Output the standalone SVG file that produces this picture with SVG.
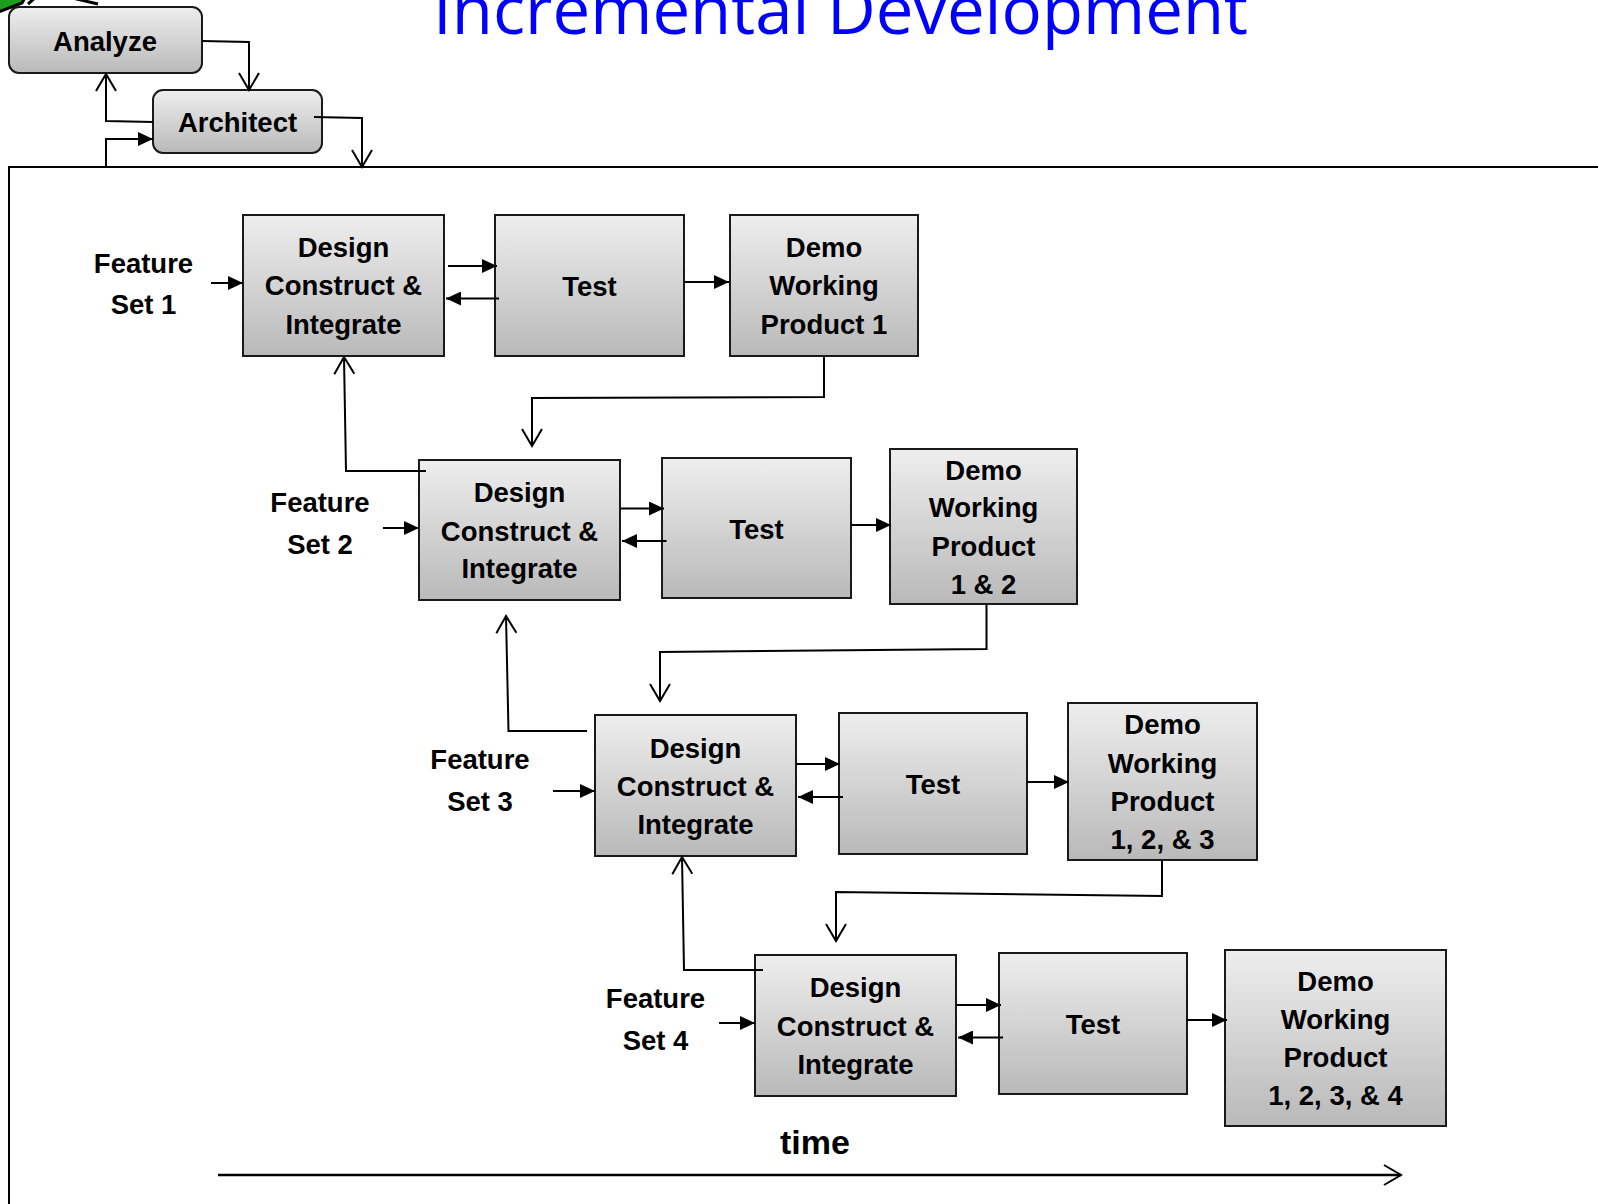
<svg xmlns="http://www.w3.org/2000/svg" width="1598" height="1204" viewBox="0 0 1598 1204">
  <defs>
    <linearGradient id="boxFill" x1="0" y1="0" x2="0" y2="1">
      <stop offset="0" stop-color="#eeeeee"/>
      <stop offset="1" stop-color="#b9b9b9"/>
    </linearGradient>
    <marker id="solid" viewBox="0 0 15 14" refX="15" refY="7" markerWidth="15" markerHeight="14" markerUnits="userSpaceOnUse" orient="auto">
      <path d="M0,0 L15,7 L0,14 z" fill="#000"/>
    </marker>
    <marker id="open" viewBox="-2 -2 21 24" refX="17" refY="10" markerWidth="21" markerHeight="24" markerUnits="userSpaceOnUse" orient="auto" overflow="visible">
      <path d="M0,0 L17,10 L0,20" fill="none" stroke="#000" stroke-width="2"/>
    </marker>
  </defs>
  <style>
    .box { fill: url(#boxFill); stroke: #1a1a1a; stroke-width: 2; }
    .lbl { font-family: "Liberation Sans", Arial, sans-serif; font-weight: bold; font-size: 27.5px; fill: #000; text-anchor: middle; }
    .conn { fill: none; stroke: #000; stroke-width: 2; }
    .s { marker-end: url(#solid); }
    .o { marker-end: url(#open); }
  </style>

  <rect width="1598" height="1204" fill="#ffffff"/>

  <!-- partial shape above the Analyze step -->
  <path d="M-4,-4 L26,-4 L22,3 L-4,13 z" fill="#1aa01a" stroke="#000" stroke-width="3"/>
  <path d="M28,4 L36,-3 M68,-3 L98,4" fill="none" stroke="#000" stroke-width="3"/>

  <!-- title -->
  <text x="433" y="34" font-family="'Open Sans', 'Liberation Sans', sans-serif" font-size="67" fill="#0000ff" textLength="815" lengthAdjust="spacingAndGlyphs">Incremental Development</text>

  <!-- frame around the increments -->
  <path d="M1598,167 H9 V1204" fill="none" stroke="#000" stroke-width="2"/>

  <!-- phase steps -->
  <g id="analyze">
    <rect class="box" x="9" y="7" width="193" height="66" rx="10"/>
    <text class="lbl" x="105" y="51">Analyze</text>
  </g>
  <g id="architect">
    <rect class="box" x="153" y="90" width="169" height="63" rx="10"/>
    <text class="lbl" x="237.5" y="131.5">Architect</text>
  </g>

  <!-- feature set labels -->
  <g id="feature-set-1">
    <text class="lbl" x="143.5" y="272.5">Feature</text>
    <text class="lbl" x="143.5" y="314">Set 1</text>
  </g>
  <g id="feature-set-2">
    <text class="lbl" x="320" y="512">Feature</text>
    <text class="lbl" x="320" y="553.5">Set 2</text>
  </g>
  <g id="feature-set-3">
    <text class="lbl" x="480" y="769">Feature</text>
    <text class="lbl" x="480" y="810.5">Set 3</text>
  </g>
  <g id="feature-set-4">
    <text class="lbl" x="655.5" y="1008">Feature</text>
    <text class="lbl" x="655.5" y="1050">Set 4</text>
  </g>

  <!-- increment 1 -->
  <g id="dci-1">
    <rect class="box" x="243" y="215" width="201" height="141"/>
    <text class="lbl" x="343.5" y="257">Design</text>
    <text class="lbl" x="343.5" y="295">Construct &amp;</text>
    <text class="lbl" x="343.5" y="333.5">Integrate</text>
  </g>
  <g id="test-1">
    <rect class="box" x="495" y="215" width="189" height="141"/>
    <text class="lbl" x="589.5" y="296">Test</text>
  </g>
  <g id="demo-1">
    <rect class="box" x="730" y="215" width="188" height="141"/>
    <text class="lbl" x="824" y="257">Demo</text>
    <text class="lbl" x="824" y="295">Working</text>
    <text class="lbl" x="824" y="333.5">Product 1</text>
  </g>

  <!-- increment 2 -->
  <g id="dci-2">
    <rect class="box" x="419" y="460" width="201" height="140"/>
    <text class="lbl" x="519.5" y="502">Design</text>
    <text class="lbl" x="519.5" y="540.5">Construct &amp;</text>
    <text class="lbl" x="519.5" y="578">Integrate</text>
  </g>
  <g id="test-2">
    <rect class="box" x="662" y="458" width="189" height="140"/>
    <text class="lbl" x="756.5" y="538.5">Test</text>
  </g>
  <g id="demo-2">
    <rect class="box" x="890" y="449" width="187" height="155"/>
    <text class="lbl" x="983.5" y="479.5">Demo</text>
    <text class="lbl" x="983.5" y="517">Working</text>
    <text class="lbl" x="983.5" y="556">Product</text>
    <text class="lbl" x="983.5" y="593.5">1 &amp; 2</text>
  </g>

  <!-- increment 3 -->
  <g id="dci-3">
    <rect class="box" x="595" y="715" width="201" height="141"/>
    <text class="lbl" x="695.5" y="757.5">Design</text>
    <text class="lbl" x="695.5" y="796">Construct &amp;</text>
    <text class="lbl" x="695.5" y="834">Integrate</text>
  </g>
  <g id="test-3">
    <rect class="box" x="839" y="713" width="188" height="141"/>
    <text class="lbl" x="933" y="794">Test</text>
  </g>
  <g id="demo-3">
    <rect class="box" x="1068" y="703" width="189" height="157"/>
    <text class="lbl" x="1162.5" y="734">Demo</text>
    <text class="lbl" x="1162.5" y="773">Working</text>
    <text class="lbl" x="1162.5" y="810.5">Product</text>
    <text class="lbl" x="1162.5" y="849">1, 2, &amp; 3</text>
  </g>

  <!-- increment 4 -->
  <g id="dci-4">
    <rect class="box" x="755" y="955" width="201" height="141"/>
    <text class="lbl" x="855.5" y="997">Design</text>
    <text class="lbl" x="855.5" y="1036">Construct &amp;</text>
    <text class="lbl" x="855.5" y="1073.5">Integrate</text>
  </g>
  <g id="test-4">
    <rect class="box" x="999" y="953" width="188" height="141"/>
    <text class="lbl" x="1093" y="1034">Test</text>
  </g>
  <g id="demo-4">
    <rect class="box" x="1225" y="950" width="221" height="176"/>
    <text class="lbl" x="1335.5" y="991">Demo</text>
    <text class="lbl" x="1335.5" y="1028.5">Working</text>
    <text class="lbl" x="1335.5" y="1067">Product</text>
    <text class="lbl" x="1335.5" y="1105">1, 2, 3, &amp; 4</text>
  </g>

  <!-- time axis label -->
  <g id="time-axis">
    <text x="815" y="1154" font-family="'Liberation Sans', Arial, sans-serif" font-weight="bold" font-size="34" text-anchor="middle">time</text>
  </g>

  <!-- connectors -->
  <g id="connectors" class="conn">
    <!-- phase steps -->
    <path class="o" d="M202,41 L249,42 V90"/>
    <path class="o" d="M153,122 L106,121 V74"/>
    <path class="s" d="M106,168 V139 H153"/>
    <path class="o" d="M314,117 L362,118 V167"/>

    <!-- increment 1 -->
    <path class="s" d="M211,283 H243"/>
    <path class="s" d="M448,266 H497"/>
    <path class="s" d="M499,298.5 H446"/>
    <path class="s" d="M684,282 H729"/>
    <path class="o" d="M824,356 V397 L532,398 V446"/>
    <path class="o" d="M426,471 H346 L344,357"/>

    <!-- increment 2 -->
    <path class="s" d="M383,528 H419"/>
    <path class="s" d="M621,508.5 H664"/>
    <path class="s" d="M666.5,541 H622"/>
    <path class="s" d="M851,525 H891"/>
    <path class="o" d="M986.5,604 V649 L660,652 V701"/>
    <path class="o" d="M587,731 H508.5 L506,616"/>

    <!-- increment 3 -->
    <path class="s" d="M553,791 H595"/>
    <path class="s" d="M796,764 H840"/>
    <path class="s" d="M843,797 H798"/>
    <path class="s" d="M1027,782 H1069"/>
    <path class="o" d="M1162,860 V896 L836,892 V941"/>
    <path class="o" d="M763,970 H684 L682,857"/>

    <!-- increment 4 -->
    <path class="s" d="M719,1023 H755"/>
    <path class="s" d="M956,1005 H1001"/>
    <path class="s" d="M1003,1037.5 H958"/>
    <path class="s" d="M1187,1020 H1227"/>

    <!-- time arrow -->
    <path class="o" d="M218,1175 H1401" stroke-width="2.5"/>
  </g>
</svg>
